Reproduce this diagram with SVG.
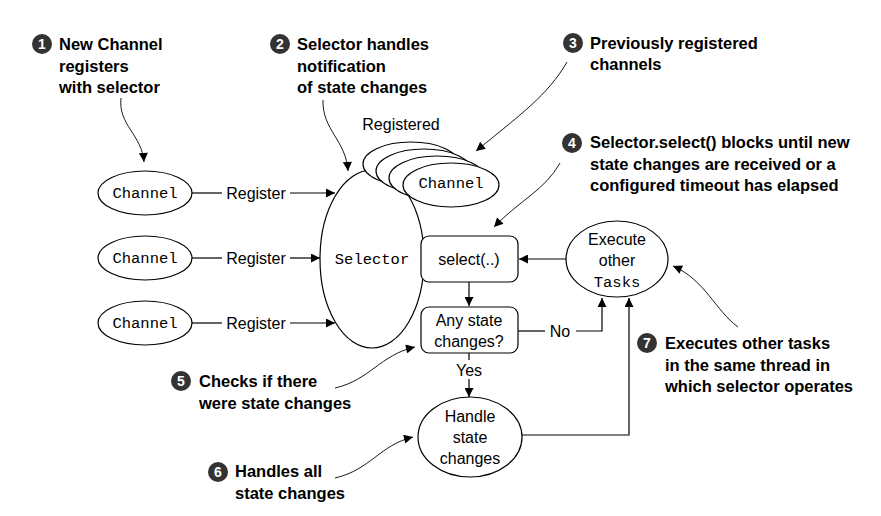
<svg xmlns="http://www.w3.org/2000/svg" width="881" height="516" viewBox="0 0 881 516">
<defs>
<style>
.shape{fill:#fff;stroke:#000;stroke-width:1.2}
.ln{fill:none;stroke:#000;stroke-width:1.2}
.cv{fill:none;stroke:#000;stroke-width:0.9}
.lbl{font-family:"Liberation Sans",Arial,sans-serif;font-size:16px;fill:#000;text-anchor:middle}
.mono{font-family:"Liberation Mono","Courier New",monospace;font-size:15.5px;fill:#000;text-anchor:middle}
.ann{font-family:"Liberation Sans",Arial,sans-serif;font-size:16.5px;font-weight:bold;fill:#000}
.num{fill:#333}
.numt{font-family:"Liberation Sans",Arial,sans-serif;font-size:14px;font-weight:bold;fill:#fff;text-anchor:middle}
</style>
<marker id="ah" viewBox="0 0 10 10" refX="10" refY="5" markerWidth="10" markerHeight="9" markerUnits="userSpaceOnUse" orient="auto">
<path d="M0,0 L10,5 L0,10 z" fill="#000"/>
</marker>
</defs>
<rect width="881" height="516" fill="#fff"/>

<g id="selector">
<ellipse class="shape" cx="372" cy="259" rx="52" ry="89"/>
<text class="mono" x="372" y="264">Selector</text>
</g>

<g id="registered-channels">
<text class="lbl" x="401" y="130">Registered</text>
<ellipse class="shape" cx="411" cy="164" rx="48" ry="22"/>
<ellipse class="shape" cx="424" cy="171" rx="48" ry="22"/>
<ellipse class="shape" cx="437" cy="178" rx="48" ry="22"/>
<ellipse class="shape" cx="451" cy="185" rx="48" ry="22"/>
<text class="mono" x="451" y="188">Channel</text>
</g>

<g id="channel1">
<ellipse class="shape" cx="145" cy="193" rx="47" ry="22"/>
<text class="mono" x="145" y="198">Channel</text>
</g>
<g id="channel2">
<ellipse class="shape" cx="145" cy="258" rx="47" ry="22"/>
<text class="mono" x="145" y="263">Channel</text>
</g>
<g id="channel3">
<ellipse class="shape" cx="145" cy="323" rx="47" ry="22"/>
<text class="mono" x="145" y="328">Channel</text>
</g>

<g id="select">
<rect class="shape" x="421" y="236" width="97" height="46" rx="8"/>
<text class="lbl" x="469" y="265">select(..)</text>
</g>

<g id="any-state-changes">
<rect class="shape" x="421" y="307" width="97" height="46" rx="8"/>
<text class="lbl" x="469" y="326">Any state</text>
<text class="lbl" x="469" y="347">changes?</text>
</g>

<g id="execute-other-tasks">
<ellipse class="shape" cx="617" cy="259" rx="51" ry="38"/>
<text class="lbl" x="617" y="245">Execute</text>
<text class="lbl" x="617" y="266">other</text>
<text class="mono" x="617" y="287">Tasks</text>
</g>

<g id="handle-state-changes">
<ellipse class="shape" cx="470" cy="437" rx="52" ry="40"/>
<text class="lbl" x="470" y="422">Handle</text>
<text class="lbl" x="470" y="443">state</text>
<text class="lbl" x="470" y="464">changes</text>
</g>

<g id="connectors">
<line class="ln" x1="192" y1="193" x2="222" y2="193"/>
<text class="lbl" x="256" y="199">Register</text>
<line class="ln" x1="290" y1="193" x2="335" y2="193" marker-end="url(#ah)"/>
<line class="ln" x1="192" y1="258" x2="222" y2="258"/>
<text class="lbl" x="256" y="264">Register</text>
<line class="ln" x1="290" y1="258" x2="320" y2="258" marker-end="url(#ah)"/>
<line class="ln" x1="192" y1="323" x2="222" y2="323"/>
<text class="lbl" x="256" y="329">Register</text>
<line class="ln" x1="290" y1="323" x2="335" y2="323" marker-end="url(#ah)"/>

<line class="ln" x1="566" y1="259" x2="519" y2="259" marker-end="url(#ah)"/>
<line class="ln" x1="469" y1="282" x2="469" y2="306" marker-end="url(#ah)"/>
<line class="ln" x1="518" y1="331" x2="545" y2="331"/>
<text class="lbl" x="560" y="337">No</text>
<polyline class="ln" points="576,331 602,331 602,298" marker-end="url(#ah)"/>
<line class="ln" x1="469" y1="353" x2="469" y2="360"/>
<text class="lbl" x="469" y="376">Yes</text>
<line class="ln" x1="469" y1="379" x2="469" y2="397" marker-end="url(#ah)"/>
<polyline class="ln" points="522,435 629,435 629,298" marker-end="url(#ah)"/>

<path class="cv" d="M121,98 C118,125 142,135 144,162" marker-end="url(#ah)"/>
<path class="cv" d="M323,100 C322,130 346,140 348,171" marker-end="url(#ah)"/>
<path class="cv" d="M567,62 C548,95 520,115 476,151" marker-end="url(#ah)"/>
<path class="cv" d="M560,163 C545,190 520,200 494,227" marker-end="url(#ah)"/>
<path class="cv" d="M335,388 C370,380 380,355 415,347" marker-end="url(#ah)"/>
<path class="cv" d="M335,478 C370,470 380,445 413,437" marker-end="url(#ah)"/>
<path class="cv" d="M738,327 C715,310 705,280 673,266" marker-end="url(#ah)"/>
</g>

<g id="annotation1">
<circle class="num" cx="42" cy="44" r="10"/><text class="numt" x="42" y="49">1</text>
<text class="ann" x="59" y="50">New Channel</text>
<text class="ann" x="59" y="72">registers</text>
<text class="ann" x="59" y="93">with selector</text>
</g>
<g id="annotation2">
<circle class="num" cx="280" cy="44" r="10"/><text class="numt" x="280" y="49">2</text>
<text class="ann" x="297" y="50">Selector handles</text>
<text class="ann" x="297" y="72">notification</text>
<text class="ann" x="297" y="93">of state changes</text>
</g>
<g id="annotation3">
<circle class="num" cx="573" cy="43" r="10"/><text class="numt" x="573" y="48">3</text>
<text class="ann" x="590" y="49">Previously registered</text>
<text class="ann" x="590" y="70">channels</text>
</g>
<g id="annotation4">
<circle class="num" cx="572" cy="143" r="10"/><text class="numt" x="572" y="148">4</text>
<text class="ann" x="590" y="148">Selector.select() blocks until new</text>
<text class="ann" x="590" y="170">state changes are received or a</text>
<text class="ann" x="590" y="191">configured timeout has elapsed</text>
</g>
<g id="annotation5">
<circle class="num" cx="181" cy="381" r="10"/><text class="numt" x="181" y="386">5</text>
<text class="ann" x="199" y="387">Checks if there</text>
<text class="ann" x="199" y="409">were state changes</text>
</g>
<g id="annotation6">
<circle class="num" cx="218" cy="472" r="10"/><text class="numt" x="218" y="477">6</text>
<text class="ann" x="235" y="477">Handles all</text>
<text class="ann" x="235" y="499">state changes</text>
</g>
<g id="annotation7">
<circle class="num" cx="647" cy="343" r="10"/><text class="numt" x="647" y="348">7</text>
<text class="ann" x="665" y="349">Executes other tasks</text>
<text class="ann" x="665" y="371">in the same thread in</text>
<text class="ann" x="665" y="392">which selector operates</text>
</g>
</svg>
